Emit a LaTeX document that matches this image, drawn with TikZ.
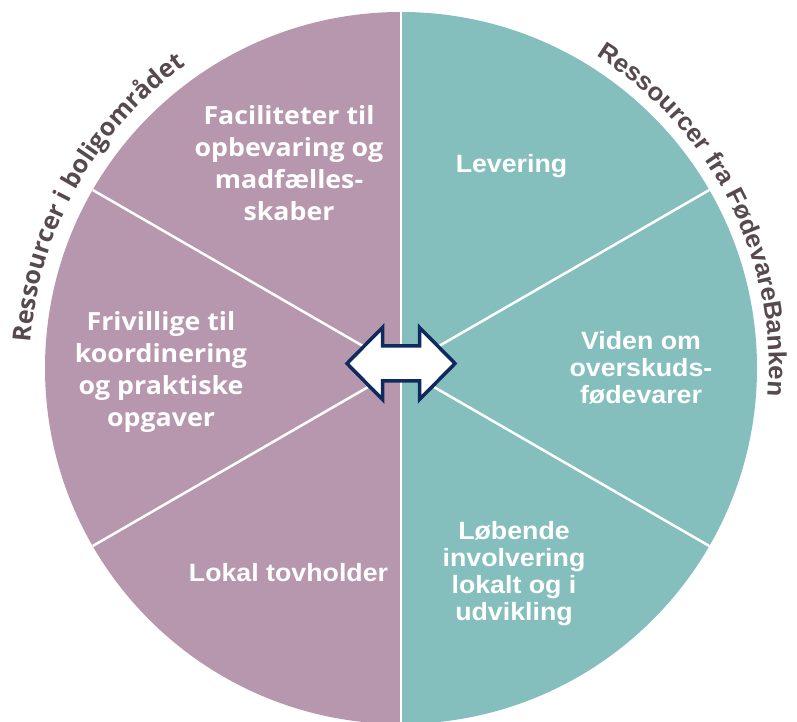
\documentclass[tikz,border=0pt]{standalone}
\usepackage{fontspec}
\usetikzlibrary{decorations.text}
\newfontfamily\lfont{Open Sans}[FakeStretch=1.07]
\newfontfamily\rfont{Liberation Sans}[FakeStretch=1.07]
\newfontfamily\lfontc{Open Sans}
\newfontfamily\rfontc{Liberation Sans}[FakeStretch=1.04]
\definecolor{purp}{HTML}{B797AE}
\definecolor{tealc}{HTML}{85BFBD}
\definecolor{lab}{HTML}{564A4E}
\definecolor{navyc}{HTML}{0E2A5E}
\tikzset{
  ltext/.style={text=white, font=\lfont\bfseries\fontsize{25}{32}\selectfont, align=center, inner sep=0pt},
  rtext/.style={text=white, font=\rfont\bfseries\fontsize{25}{27}\selectfont, align=center, inner sep=0pt},
  spoke/.style={white, line width=2.5pt},
}
\begin{document}
\begin{tikzpicture}[x=1pt,y=1pt]
\useasboundingbox (0,0) rectangle (797,722);
\coordinate (C) at (401,354);
\coordinate (T) at (401,710);
\coordinate (B) at (401,-2);
% halves
\fill[purp] (T) arc[start angle=90,end angle=270,radius=356] -- cycle;
\fill[tealc] (B) arc[start angle=-90,end angle=90,radius=356] -- cycle;
% spokes
\foreach \a in {30,150,210,330}{
  \draw[spoke] (C) -- ++(\a:356);
}
\draw[spoke] (T) -- (B);
% arrow
\draw[navyc, line width=3.5pt, fill=white, line join=miter, shift={(401,358.5)}]
  (-54,0) -- (-18.5,36) -- (-18.5,17.5) -- (18.5,17.5) -- (18.5,36) -- (54,0)
  -- (18.5,-36) -- (18.5,-17.5) -- (-18.5,-17.5) -- (-18.5,-36) -- cycle;
% texts
\node[ltext] (fac) at (289,559) {Faciliteter til\\opbevaring og\\madfælles-\\skaber};
\node[ltext] (fri) at (161,350) {Frivillige til\\koordinering\\og praktiske\\opgaver};
\node[rtext, anchor=base] (lok) at (288.5,140.5) {Lokal tovholder};
\node[rtext, anchor=base] (lev) at (511.5,549) {Levering};
\node[rtext] (vid) at (641,354) {Viden om\\overskuds-\\fødevarer};
\node[rtext] (lob) at (514,148) {Løbende\\involvering\\lokalt og i\\udvikling};
% curved labels
\path[shift={(401,354)}, decorate, decoration={text along path, text align=left,
  text={|\lfontc\bfseries\fontsize{25}{30}\selectfont\color{lab}|Ressourcer i boligområdet}}]
  (176:371) arc[start angle=176, end angle=100, radius=371];
\path[shift={(401,354)}, decorate, decoration={text along path, text align=left,
  text={|\rfontc\bfseries\fontsize{25}{30}\selectfont\color{lab}|Ressourcer fra FødevareBanken}}]
  (58:368) arc[start angle=58, end angle=-25, radius=368];
\end{tikzpicture}
\end{document}
